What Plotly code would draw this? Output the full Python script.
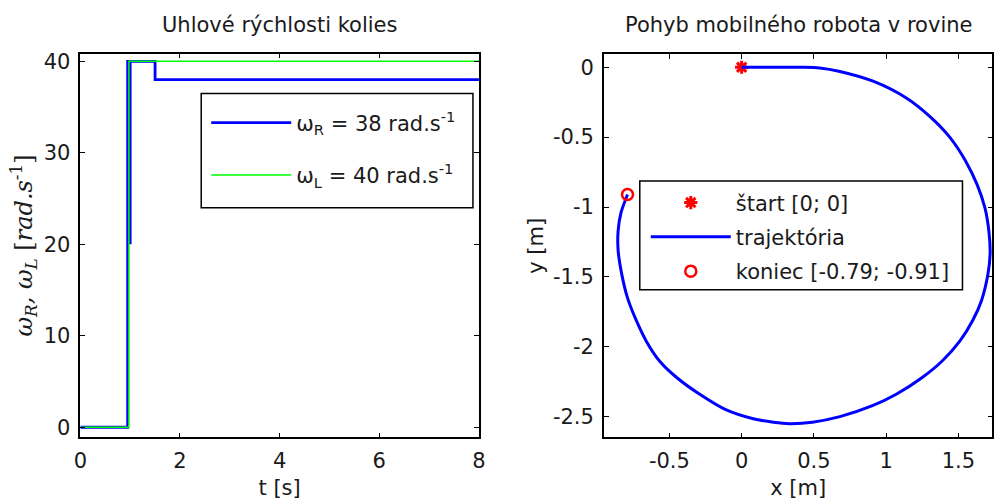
import plotly.graph_objects as go

# ---- data: left chart (wheel angular velocities) ----
t_R = [0, 0.95, 0.95, 1.0, 1.0, 1.0, 1.5, 1.5, 8]
w_R = [0, 0, 40, 40, 20, 40, 40, 38, 38]
t_L = [0, 0.975, 0.975, 8]
w_L = [0, 0, 40, 40]
left_xticks = [0, 2, 4, 6, 8]
left_yticks = [0, 10, 20, 30, 40]

# ---- data: right chart (robot trajectory in plane) ----
traj_x = [0.0, 0.42, 0.54, 0.68, 0.91, 1.14, 1.30, 1.44, 1.55, 1.63, 1.685, 1.712, 1.72,
          1.705, 1.66, 1.60, 1.51, 1.39, 1.25, 1.07, 0.91, 0.68, 0.49, 0.33, 0.22, 0.08,
          -0.11, -0.29, -0.45, -0.57, -0.66, -0.73, -0.79, -0.83, -0.855, -0.855,
          -0.835, -0.79]
traj_y = [0.0, 0.0, -0.005, -0.03, -0.10, -0.22, -0.35, -0.50, -0.67, -0.84, -1.01,
          -1.18, -1.33, -1.48, -1.67, -1.81, -1.96, -2.10, -2.22, -2.34, -2.42, -2.50,
          -2.54, -2.55, -2.54, -2.515, -2.45, -2.34, -2.22, -2.10, -1.96, -1.81, -1.65,
          -1.48, -1.31, -1.17, -1.04, -0.91]
start_xy = ([0.0], [0.0])
end_xy = ([-0.79], [-0.91])
right_xticks = [-0.5, 0, 0.5, 1, 1.5]
right_xtick_text = ["-0.5", "0", "0.5", "1", "1.5"]
right_yticks = [0, -0.5, -1, -1.5, -2, -2.5]
right_ytick_text = ["0", "-0.5", "-1", "-1.5", "-2", "-2.5"]

W, H = 1003, 500
FONT = "DejaVu Sans, Verdana, sans-serif"
FS = 21
TXT = "#1a1a1a"

# layout positions are given in picture pixels; convert to page pixels
SX, BX, SY, BY = 0.987, 6.6, 0.987, 3.8


def px_x(p):
    return ((p - BX) / SX) / W


def px_y(p):
    return 1 - ((p - BY) / SY) / H


fig = go.Figure()

fig.add_trace(go.Scatter(x=t_R, y=w_R, mode="lines", xaxis="x", yaxis="y",
                         line=dict(color="#0000ff", width=2.8),
                         name="ω<sub>R</sub> = 38 rad.s<sup>-1</sup>",
                         legend="legend", legendgroup="a"))
fig.add_trace(go.Scatter(x=t_L, y=w_L, mode="lines", xaxis="x", yaxis="y",
                         line=dict(color="#00ff00", width=1.5),
                         name="ω<sub>L</sub> = 40 rad.s<sup>-1</sup>",
                         legend="legend", legendgroup="b"))

fig.add_trace(go.Scatter(x=start_xy[0], y=start_xy[1], mode="markers", xaxis="x2", yaxis="y2",
                         marker=dict(symbol="asterisk-open", size=11, color="#ff0000",
                                     line=dict(color="#ff0000", width=3)),
                         name="štart [0; 0]", legend="legend2", legendgroup="c"))
fig.add_trace(go.Scatter(x=traj_x, y=traj_y, mode="lines", xaxis="x2", yaxis="y2",
                         line=dict(color="#0000ff", width=3, shape="spline", smoothing=0.8),
                         name="trajektória", legend="legend2", legendgroup="d"))
fig.add_trace(go.Scatter(x=end_xy[0], y=end_xy[1], mode="markers", xaxis="x2", yaxis="y2",
                         marker=dict(symbol="circle-open", size=11, color="#ff0000",
                                     line=dict(color="#ff0000", width=2.5)),
                         name="koniec [-0.79; -0.91]", legend="legend2", legendgroup="e"))

axis_common = dict(showline=True, linecolor="black", linewidth=1.5, mirror="ticks",
                   ticks="inside", ticklen=5, tickwidth=1.2, tickcolor="black",
                   showgrid=False, zeroline=False, ticklabelstandoff=4,
                   tickfont=dict(family=FONT, size=FS, color=TXT))

legend_frames = [(201, 93.3, 473, 207.3), (640, 180.7, 963, 289.3)]
shapes = [dict(type="rect", xref="paper", yref="paper",
               x0=px_x(a), x1=px_x(c), y0=px_y(d), y1=px_y(b),
               line=dict(color="black", width=1.5), fillcolor="white", layer="above")
          for a, b, c, d in legend_frames]

fig.update_layout(
    width=W, height=H, margin=dict(l=0, r=0, t=0, b=0),
    paper_bgcolor="white", plot_bgcolor="white",
    font=dict(family=FONT, size=FS, color=TXT),
    xaxis=dict(domain=[px_x(80), px_x(479)], range=[0, 8], tickvals=left_xticks,
               title=dict(text="t [s]", standoff=10, font=dict(size=FS)),
               anchor="y", **axis_common),
    yaxis=dict(domain=[px_y(436.7), px_y(53.3)], range=[-1.1, 40.85],
               tickvals=left_yticks,
               title=dict(text="<i>ω<sub>R</sub>, ω<sub>L</sub></i> [<i>rad.s</i><sup>-1</sup>]",
                          standoff=4, font=dict(size=24, family="DejaVu Serif, serif")),
               anchor="x", **axis_common),
    xaxis2=dict(domain=[px_x(604), px_x(993)], range=[-0.954, 1.736], tickvals=right_xticks,
                ticktext=right_xtick_text,
                title=dict(text="x [m]", standoff=10, font=dict(size=FS)),
                anchor="y2", **axis_common),
    yaxis2=dict(domain=[px_y(436.7), px_y(54)], range=[-2.648, 0.093],
                tickvals=right_yticks, ticktext=right_ytick_text,
                title=dict(text="y [m]", standoff=4, font=dict(size=FS)),
                anchor="x2", **axis_common),
    legend=dict(x=px_x(206), y=px_y(102.2), xanchor="left", yanchor="top",
                bgcolor="rgba(0,0,0,0)", borderwidth=0,
                font=dict(family=FONT, size=FS, color=TXT),
                itemwidth=80, tracegroupgap=22, traceorder="grouped"),
    legend2=dict(x=px_x(646), y=px_y(182), xanchor="left", yanchor="top",
                 bgcolor="rgba(0,0,0,0)", borderwidth=0,
                 font=dict(family=FONT, size=FS, color=TXT),
                 itemwidth=80, tracegroupgap=4, traceorder="grouped"),
    showlegend=True,
    shapes=shapes,
    annotations=[
        dict(text="Uhlové rýchlosti kolies", x=px_x((80 + 479) / 2), y=px_y(25),
             xref="paper", yref="paper", showarrow=False, xanchor="center", yanchor="middle",
             font=dict(family=FONT, size=FS, color=TXT)),
        dict(text="Pohyb mobilného robota v rovine", x=px_x((604 + 993) / 2), y=px_y(25),
             xref="paper", yref="paper", showarrow=False, xanchor="center", yanchor="middle",
             font=dict(family=FONT, size=FS, color=TXT)),
    ],
)

fig.write_html("out.html", config={"displayModeBar": False},
               post_script="document.body.style.margin='0';document.body.style.overflow='hidden';")
